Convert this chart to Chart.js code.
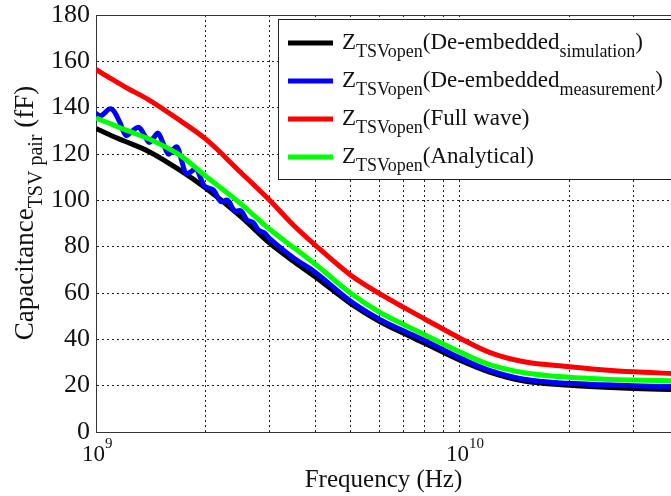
<!DOCTYPE html>
<html>
<head>
<meta charset="utf-8">
<script src="https://cdn.jsdelivr.net/npm/chart.js@4.4.0/dist/chart.umd.min.js"></script>
<style>
  html, body { margin: 0; padding: 0; background: #fff; }
  #grafica { display: block; }
</style>
</head>
<body>
<canvas id="grafica" width="671" height="496"></canvas>
<script>
// Datos (frecuencia en GHz, capacitancia en fF)
const freqGHz = [1, 1.1, 1.2, 1.4, 1.7, 2, 2.5, 3, 3.5, 4, 5, 6, 7, 8, 10, 12, 15, 20, 25, 30, 38];
const capSimulacion = [131, 128, 125.5, 121, 113, 105.3, 93, 81.5, 73.5, 67, 55.5, 47.8, 42.6, 38.3, 31, 26, 22, 20.2, 19.3, 18.8, 18.3];
const capFullWave   = [156.5, 152.5, 149, 143.3, 134.5, 126.5, 112, 100, 89, 80.7, 67.8, 59.8, 53.8, 48.8, 40.5, 34.5, 30.3, 28.2, 26.8, 26, 25.3];
const capAnalitica  = [135.5, 133, 130.5, 126.5, 119.5, 110.5, 98.5, 87.5, 79.5, 72.5, 60, 51.8, 46.4, 42, 34.5, 29.2, 25.6, 23.6, 22.8, 22.4, 22.1];

// la medición tiene rizado, va con su propia rejilla de frecuencias
const freqMedicion = [1, 1.03, 1.1, 1.16, 1.21, 1.26, 1.31, 1.36, 1.4, 1.44, 1.48, 1.53, 1.58, 1.62, 1.67, 1.72, 1.77, 1.83, 1.88, 1.94, 1.99,
  2.1, 2.2, 2.3, 2.4, 2.5, 2.6, 2.7, 2.8, 2.9, 3, 3.5, 4, 5, 6, 7, 8, 10, 12, 15, 20, 25, 30, 38];
const capMedicion = [137.5, 136.5, 139.5, 134, 128, 130, 131.5, 128, 125, 127, 129, 124.5, 120, 121.5, 123, 117, 111.5, 112.5, 113.8, 109.5, 106,
  104.5, 99.5, 100, 95.5, 95.5, 91.5, 90.5, 87, 86, 83.5, 75, 69, 56.5, 48.7, 43.7, 39.5, 32, 26.7, 22.8, 21, 20.4, 20, 19.6];

const yTicks = [0, 20, 40, 60, 80, 100, 120, 140, 160, 180];
const xLabelExp = [9, 10];

const etiquetas = [
  { color: '#000000', texto: '(De-embedded', sub: 'simulation', fin: ')' },
  { color: '#0000ff', texto: '(De-embedded', sub: 'measurement', fin: ')' },
  { color: '#ff0000', texto: '(Full wave)', sub: '', fin: '' },
  { color: '#00ff00', texto: '(Analytical)', sub: '', fin: '' }
];

const FUENTE = '"Liberation Serif", "Times New Roman", serif';

function puntos(fs, vals) {
  return fs.map((f, i) => ({ x: f * 1e9, y: vals[i] }));
}

// Texto con subíndices: partes = [[texto, 'sub'|'sup'|null], ...]
function textoRico(ctx, partes, x, y, tam, tamSub, despSub, despSup) {
  let cx = x;
  partes.forEach(([t, tipo]) => {
    let dy = 0;
    if (tipo === 'sub') { ctx.font = tamSub + 'px ' + FUENTE; dy = despSub; }
    else if (tipo === 'sup') { ctx.font = tamSub + 'px ' + FUENTE; dy = -despSup; }
    else ctx.font = tam + 'px ' + FUENTE;
    ctx.fillText(t, cx, y + dy);
    cx += ctx.measureText(t).width;
  });
  return cx - x;
}

function anchoRico(ctx, partes, tam, tamSub) {
  let w = 0;
  partes.forEach(([t, tipo]) => {
    ctx.font = (tipo ? tamSub : tam) + 'px ' + FUENTE;
    w += ctx.measureText(t).width;
  });
  return w;
}

const decoracion = {
  id: 'decoracion',
  afterDraw(chart) {
    const { ctx, chartArea: a, scales: { x } } = chart;
    ctx.save();
    // marco superior
    ctx.strokeStyle = '#333';
    ctx.lineWidth = 1;
    ctx.beginPath();
    ctx.moveTo(a.left, a.top + 0.5);
    ctx.lineTo(a.right, a.top + 0.5);
    ctx.stroke();

    ctx.fillStyle = '#111';
    ctx.textBaseline = 'alphabetic';
    ctx.textAlign = 'left';

    // etiquetas del eje x: 10^9, 10^10
    xLabelExp.forEach(e => {
      const px = x.getPixelForValue(Math.pow(10, e));
      textoRico(ctx, [['10', null], [String(e), 'sup']], px - 14, 461, 23, 15, 0, 13);
    });

    // título eje x
    ctx.font = '25px ' + FUENTE;
    ctx.textAlign = 'center';
    ctx.fillText('Frequency (Hz)', (a.left + a.right) / 2, 487);

    // título eje y (rotado, con subíndice)
    ctx.textAlign = 'left';
    const partesY = [['Capacitance', null], ['TSV pair', 'sub'], [' (fF)', null]];
    const wy = anchoRico(ctx, partesY, 27, 20);
    ctx.save();
    ctx.translate(33, 213);
    ctx.rotate(-Math.PI / 2);
    textoRico(ctx, partesY, -wy / 2, 0, 27, 20, 9, 0);
    ctx.restore();

    // leyenda
    ctx.fillStyle = '#fff';
    ctx.fillRect(278, 19, 420, 160);
    ctx.strokeStyle = '#222';
    ctx.strokeRect(278.5, 19.5, 420, 160);
    etiquetas.forEach((et, i) => {
      const yl = 43 + i * 38;
      ctx.strokeStyle = et.color;
      ctx.lineWidth = 5;
      ctx.beginPath();
      ctx.moveTo(288, yl);
      ctx.lineTo(333, yl);
      ctx.stroke();
      ctx.fillStyle = '#111';
      const partes = [['Z', null], ['TSVopen', 'sub'], [et.texto, null]];
      if (et.sub) partes.push([et.sub, 'sub']);
      if (et.fin) partes.push([et.fin, null]);
      textoRico(ctx, partes, 342, yl + 5.5, 23, 18, 8, 0);
    });
    ctx.restore();
  }
};

function serie(color, datos, suave) {
  return {
    data: datos,
    borderColor: color,
    backgroundColor: color,
    borderWidth: 5,
    pointRadius: 0,
    tension: 0.4,
    cubicInterpolationMode: suave ? 'monotone' : 'default',
    fill: false
  };
}

new Chart(document.getElementById('grafica'), {
  type: 'line',
  data: {
    // el primero queda encima
    datasets: [
      serie('#00ff00', puntos(freqGHz, capAnalitica), true),
      serie('#ff0000', puntos(freqGHz, capFullWave), true),
      serie('#0000ff', puntos(freqMedicion, capMedicion), false),
      serie('#000000', puntos(freqGHz, capSimulacion), true)
    ]
  },
  options: {
    responsive: false,
    animation: false,
    layout: { padding: { top: 15, left: 0, right: 0, bottom: 0 } },
    plugins: { legend: { display: false }, tooltip: { enabled: false } },
    scales: {
      x: {
        type: 'logarithmic',
        min: 1e9,
        max: 3.8e10,
        ticks: { display: false },
        grid: { color: '#222', lineWidth: 1, drawTicks: false },
        border: { color: '#333', width: 1, dash: [2, 3] },
        afterBuildTicks(scale) {
          scale.ticks = scale.ticks.filter(t => {
            const m = t.value / Math.pow(10, Math.floor(Math.log10(t.value) + 1e-9));
            return Math.abs(m - Math.round(m)) < 1e-6;
          });
        },
        afterFit(scale) { scale.height = 64; }
      },
      y: {
        min: 0,
        max: 180,
        afterBuildTicks(scale) { scale.ticks = yTicks.map(v => ({ value: v })); },
        ticks: { color: '#111', font: { family: FUENTE, size: 26, lineHeight: 0.6 }, padding: 6 },
        grid: { color: '#222', lineWidth: 1, drawTicks: false },
        border: { color: '#333', width: 1, dash: [2, 3] },
        afterFit(scale) { scale.width = 96; }
      }
    }
  },
  plugins: [decoracion]
});
</script>
</body>
</html>
